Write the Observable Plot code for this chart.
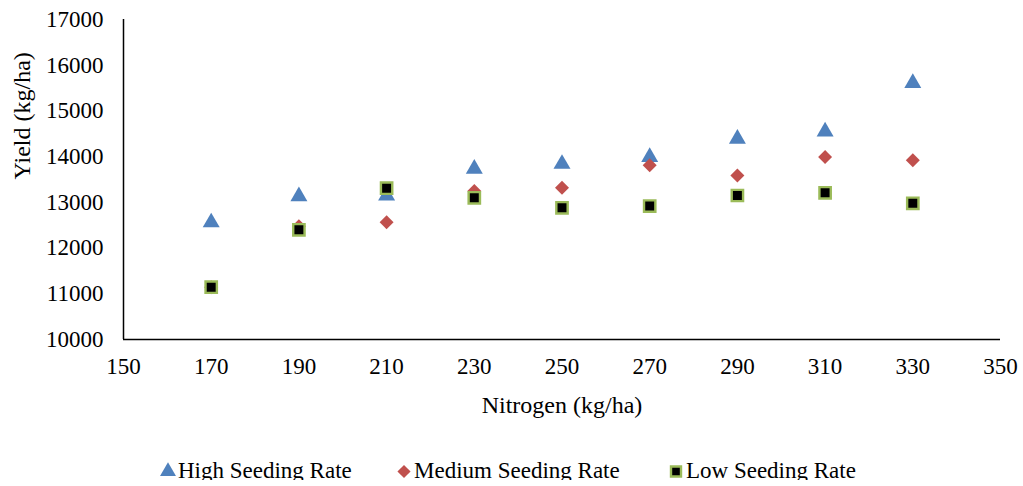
<!DOCTYPE html>
<html>
<head>
<meta charset="utf-8">
<script src="https://cdn.jsdelivr.net/npm/d3@7"></script>
<script src="https://cdn.jsdelivr.net/npm/@observablehq/plot@0.6"></script>
<style>
  html, body { margin: 0; padding: 0; background: #fff; }
  #chart { width: 1023px; }
  #chart svg text { font-family: "Liberation Serif", "Times New Roman", serif; }
  .legend { position: relative; font-family: "Liberation Serif", "Times New Roman", serif; font-size: 23px; color: #000; height: 40px; }
  .legend .item { display: flex; align-items: center; position: absolute; top: 0; }
  .legend svg { margin-right: 1px; }
</style>
</head>
<body>
<div id="chart"></div>
<script>
const nitrogen = [170, 190, 210, 230, 250, 270, 290, 310, 330];
const high   = [12560, 13130, 13150, 13735, 13840, 13990, 14390, 14550, 15610];
const medium = [11145, 12480, 12565, 13250, 13320, 13810, 13590, 13990, 13920];
const low    = [11145, 12400, 13310, 13100, 12880, 12920, 13150, 13210, 12980];
const seriesNames = ["High Seeding Rate", "Medium Seeding Rate", "Low Seeding Rate"];
const xTicks = [150, 170, 190, 210, 230, 250, 270, 290, 310, 330, 350];
const yTicks = [10000, 11000, 12000, 13000, 14000, 15000, 16000, 17000];

const toRows = (vals) => nitrogen.map((n, i) => ({n, y: vals[i]}));
const font = "Liberation Serif";

const plot = Plot.plot({
  width: 1023,
  height: 440,
  marginLeft: 123,
  marginRight: 23,
  marginTop: 19,
  marginBottom: 101,
  style: {fontFamily: font, fontSize: "23px", color: "#000", background: "#fff"},
  x: {domain: [150, 350]},
  y: {domain: [10000, 17000]},
  marks: [
    Plot.axisX({ticks: xTicks, tickSize: 0, tickPadding: 18, tickFormat: d => String(d), fontSize: 23,
      label: null}),
    Plot.axisY({ticks: yTicks, tickSize: 0, tickPadding: 20, tickFormat: d => String(d), fontSize: 23,
      label: null}),
    Plot.text(["Nitrogen (kg/ha)"], {frameAnchor: "bottom", dy: 73, fontSize: 24, fill: "#000"}),
    Plot.text(["Yield (kg/ha)"], {frameAnchor: "left", dx: -101, rotate: -90, fontSize: 24, fill: "#000"}),
    Plot.ruleX([150], {stroke: "#000", strokeWidth: 1.5}),
    Plot.ruleY([10000], {stroke: "#000", strokeWidth: 1.5}),
    Plot.dot(toRows(high), {x: "n", y: "y", symbol: "triangle", r: 6.3, fill: "#4F81BD", stroke: "none"}),
    Plot.dot(toRows(medium), {x: "n", y: "y", symbol: "diamond2", r: 6.3, fill: "#C0504D", stroke: "none"}),
    Plot.dot(toRows(low), {x: "n", y: "y", symbol: "square", r: 6.4, fill: "#000", stroke: "#9BBB59", strokeWidth: 2.4})
  ]
});
document.getElementById("chart").appendChild(plot);

// legend
const legend = document.createElement("div");
legend.className = "legend";
legend.style.top = "18px";
const legendSymbols = [
  {sym: d3.symbolTriangle, size: 110, fill: "#4F81BD", stroke: "none", left: 159},
  {sym: d3.symbolDiamond2, size: 110, fill: "#C0504D", stroke: "none", left: 395},
  {sym: d3.symbolSquare, size: 100, fill: "#000", stroke: "#9BBB59", left: 667}
];
seriesNames.forEach((name, i) => {
  const s = legendSymbols[i];
  const item = document.createElement("div");
  item.className = "item";
  item.style.left = s.left + "px";
  const svg = d3.create("svg").attr("width", 18).attr("height", 18);
  svg.append("path").attr("transform", "translate(9,9.5)")
    .attr("d", d3.symbol(s.sym, s.size)())
    .attr("fill", s.fill).attr("stroke", s.stroke).attr("stroke-width", 2.4);
  item.appendChild(svg.node());
  const span = document.createElement("span");
  span.textContent = name;
  item.appendChild(span);
  legend.appendChild(item);
});
document.body.appendChild(legend);
</script>
</body>
</html>
